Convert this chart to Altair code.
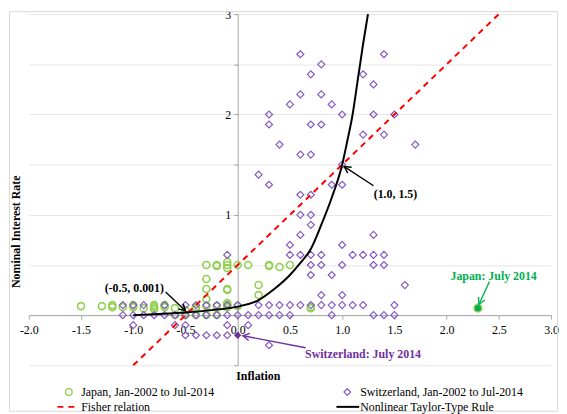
import math
import altair as alt
import pandas as pd

# ---------------- data ----------------
# Japan, Jan-2002 to Jul-2014 (inflation, nominal rate)
japan_inflation = [
    -1.5, -1.3, -1.2, -1.2, -1.1, -1.0, -1.0, -0.9, -0.8, -0.8, -0.8, -0.7,
    -0.7, -0.6, -0.5, -0.4, -0.4, -0.3, -0.2, -0.1, -0.1, 0.0, 0.7, 0.7,
    -0.6, -0.5, -0.4, -0.3, -0.2,
    -0.3, -0.3, -0.3, -0.1, -0.1, -0.1, 0.2, 0.2,
    -0.3, -0.2, -0.2, -0.1, -0.1, -0.1, 0.0, 0.1, 0.3, 0.3, 0.4, 0.5,
]
japan_rate = [
    0.09, 0.09, 0.10, 0.08, 0.08, 0.10, 0.08, 0.07, 0.10, 0.08, 0.06, 0.10,
    0.08, 0.07, 0.05, 0.08, 0.06, 0.09, 0.09, 0.10, 0.08, 0.09, 0.08, 0.07,
    0.002, 0.002, 0.002, 0.003, 0.002,
    0.36, 0.26, 0.16, 0.26, 0.25, 0.12, 0.30, 0.20,
    0.50, 0.50, 0.49, 0.53, 0.50, 0.47, 0.50, 0.50, 0.50, 0.49, 0.48, 0.50,
]

# Switzerland, Jan-2002 to Jul-2014: rate level -> inflation values
swiss_rows = [
    (2.6, [0.6, 1.4]),
    (2.5, [0.8]),
    (2.4, [0.7, 1.2]),
    (2.3, [1.3]),
    (2.2, [0.6, 0.8]),
    (2.1, [0.5, 0.9]),
    (2.0, [0.3, 1.0, 1.3, 1.5]),
    (1.9, [0.3, 0.7, 0.8]),
    (1.8, [1.2, 1.4]),
    (1.7, [0.4, 1.7]),
    (1.6, [0.6, 0.7]),
    (1.5, [1.0]),
    (1.4, [0.2]),
    (1.3, [0.3, 0.9, 1.0]),
    (1.2, [0.6, 0.7]),
    (1.0, [0.6, 0.7]),
    (0.9, [0.7]),
    (0.8, [0.6, 1.3]),
    (0.7, [0.5, 1.0]),
    (0.6, [-0.1, 0.5, 0.6, 0.7, 0.8, 1.1, 1.2, 1.3, 1.4]),
    (0.5, [0.7, 0.8, 1.0, 1.3, 1.4]),
    (0.4, [0.7, 0.9]),
    (0.3, [1.6]),
    (0.2, [0.8, 1.0]),
    (0.1, [-1.1, -1.0, -0.9, -0.7, -0.5, -0.4, -0.3, -0.2, -0.1, 0.0, 0.2,
           0.3, 0.4, 0.5, 0.6, 0.7, 0.8, 0.9, 1.0, 1.1, 1.2, 1.5]),
    (0.0, [-1.1, -1.0, -0.9, -0.8, -0.7, -0.6, -0.5, -0.4, -0.3, -0.2, -0.1,
           0.0, 0.1, 0.2, 0.3, 0.4, 0.5, 0.9, 1.3, 1.4, 1.5]),
    (-0.1, [-1.0, -0.6, -0.5, -0.1, 0.1]),
    (-0.2, [-0.5, -0.4, -0.3, -0.2, -0.1]),
    (-0.3, [0.3]),
]
swiss_inflation = [x for r, xs in swiss_rows for x in xs]
swiss_rate = [r for r, xs in swiss_rows for x in xs]

# July 2014 observations
japan_july_inflation, japan_july_rate = [2.3], [0.07]
swiss_july_inflation, swiss_july_rate = [0.0], [-0.2]

# Fisher relation
fisher_inflation = [-1.0, 2.5]
fisher_rate = [-0.5, 3.0]

# Nonlinear Taylor-type rule
taylor_inflation = [-1.0, -0.75, -0.5, -0.25, 0.0, 0.2, 0.35, 0.5, 0.6, 0.7,
                    0.8, 0.9, 1.0, 1.05, 1.1, 1.15, 1.2, 1.247]
taylor_rate = [0.0, 0.012, 0.027, 0.05, 0.085, 0.15, 0.26, 0.40, 0.52, 0.66,
               0.90, 1.17, 1.5, 1.74, 2.0, 2.35, 2.70, 3.0]

x_ticks = [-2.0, -1.5, -1.0, -0.5, 0.0, 0.5, 1.0, 1.5, 2.0, 2.5, 3.0]
y_ticks = [-0.5, 0.0, 0.5, 1.0, 1.5, 2.0, 2.5, 3.0]

# annotations
ann_labels = ["(-0.5, 0.001)", "(1.0, 1.5)", "Japan: July 2014", "Switzerland: July 2014"]
ann_x = [-0.99, 1.51, 2.45, 1.20]
ann_y = [0.27, 1.21, 0.39, -0.385]
arrow_x0 = [-0.69, 1.30, 2.41, 0.65]
arrow_y0 = [0.23, 1.29, 0.335, -0.325]
arrow_x1 = [-0.50, 1.02, 2.31, 0.05]
arrow_y1 = [0.044, 1.48, 0.108, -0.205]

# ---------------- layout / style ----------------
W, H = 528, 355
X_DOMAIN, Y_DOMAIN = [-2.0, 3.0], [-0.5, 3.0]
PX_X = W / (X_DOMAIN[1] - X_DOMAIN[0])
PX_Y = H / (Y_DOMAIN[1] - Y_DOMAIN[0])
PAD_L, PAD_T = 21, 4
SERIF = "Liberation Serif, Times New Roman, serif"
JP_COL = "#92D050"
CH_COL = "#8459C4"
ANN_COLORS = ["#000000", "#000000", "#00B050", "#7030A0"]
AXIS_COL = "#A6A6A6"


def px(x):  # absolute page x -> view x
    return x - 8 - PAD_L


def py(y):  # absolute page y -> view y
    return y - 8 - PAD_T


x_axis = alt.Axis(values=x_ticks, title=None, grid=False,
                  offset=-(0 - Y_DOMAIN[0]) * PX_Y,
                  labelExpr="(datum.value < 0 ? '-' : '') + format(abs(datum.value), '.1f')",
                  domainColor=AXIS_COL, tickColor=AXIS_COL, tickSize=4,
                  labelFont=SERIF, labelFontSize=12, labelColor="#000000",
                  labelPadding=6, labelFlush=False, labelOverlap=False)
y_axis = alt.Axis(values=y_ticks, title=None, grid=True, gridColor="#E6E6E6",
                  offset=-(0 - X_DOMAIN[0]) * PX_X,
                  labelExpr="datum.value >= 1 && datum.value % 1 == 0 ? format(datum.value, 'd') : ''",
                  domainColor=AXIS_COL, tickColor=AXIS_COL, tickSize=4,
                  labelFont=SERIF, labelFontSize=12, labelColor="#000000",
                  labelPadding=3, labelFlush=False, labelOverlap=False)
xs = alt.Scale(domain=X_DOMAIN, nice=False, zero=False)
ys = alt.Scale(domain=Y_DOMAIN, nice=False, zero=False)


def X(f):
    return alt.X(f, type="quantitative", scale=xs, axis=x_axis)


def Y(f):
    return alt.Y(f, type="quantitative", scale=ys, axis=y_axis)


japan_df = pd.DataFrame({"x": japan_inflation, "y": japan_rate})
swiss_df = pd.DataFrame({"x": swiss_inflation, "y": swiss_rate})
fisher_df = pd.DataFrame({"x": fisher_inflation, "y": fisher_rate})
taylor_df = pd.DataFrame({"x": taylor_inflation, "y": taylor_rate})
jj_df = pd.DataFrame({"x": japan_july_inflation, "y": japan_july_rate})
sj_df = pd.DataFrame({"x": swiss_july_inflation, "y": swiss_july_rate})

angles = [
    math.degrees(math.atan2((x1 - x0) * PX_X, (y1 - y0) * PX_Y)) % 360
    for x0, y0, x1, y1 in zip(arrow_x0, arrow_y0, arrow_x1, arrow_y1)
]
ann_df = pd.DataFrame({
    "label": ann_labels, "x": ann_x, "y": ann_y, "color": ANN_COLORS,
    "x0": arrow_x0, "y0": arrow_y0, "x1": arrow_x1, "y1": arrow_y1,
    "angle": angles,
})

japan = alt.Chart(japan_df).mark_point(shape="circle", filled=False, size=50,
                                        strokeWidth=1.6, color=JP_COL, opacity=1).encode(x=X("x"), y=Y("y"))
swiss = alt.Chart(swiss_df).mark_point(shape="diamond", filled=False, size=50,
                                        strokeWidth=1.2, color=CH_COL, opacity=1).encode(x=X("x"), y=Y("y"))
fisher = alt.Chart(fisher_df).mark_line(color="#FF0000", strokeWidth=2,
                                         strokeDash=[6, 5]).encode(x=X("x"), y=Y("y"))
taylor = alt.Chart(taylor_df).mark_line(color="#000000", strokeWidth=2,
                                         interpolate="monotone").encode(x=X("x"), y=Y("y"))
jj = alt.Chart(jj_df).mark_point(shape="circle", filled=True, size=60, fill="#00B050",
                                 stroke=JP_COL, strokeWidth=1.5, opacity=1).encode(x=X("x"), y=Y("y"))
sj = alt.Chart(sj_df).mark_point(shape="diamond", filled=True, size=55,
                                 color="#7030A0", opacity=1).encode(x=X("x"), y=Y("y"))

arrows = alt.Chart(ann_df).mark_rule(strokeWidth=1.4).encode(
    x=X("x0"), y=Y("y0"), x2="x1", y2="y1",
    color=alt.Color("color:N", scale=None))
heads = alt.Chart(ann_df).mark_point(shape="M-0.55,1L0,0L0.55,1", filled=False,
                                     size=170, strokeWidth=1.4, opacity=1).encode(
    x=X("x1"), y=Y("y1"), angle=alt.Angle("angle:Q", scale=None),
    stroke=alt.Color("color:N", scale=None))
ann_text = alt.Chart(ann_df).mark_text(font=SERIF, fontSize=12, fontWeight="bold").encode(
    x=X("x"), y=Y("y"), text="label:N", color=alt.Color("color:N", scale=None))

one = pd.DataFrame({"k": [0]})


def label(txt, x, y, **kw):
    base = dict(font=SERIF, fontSize=12, align="left", baseline="middle", color="#000000")
    base.update(kw)
    return alt.Chart(one).mark_text(**base).encode(
        x=alt.value(px(x)), y=alt.value(py(y)), text=alt.value(txt))


x_title = label("Inflation", 261, 378, fontWeight="bold", align="center")
y_title = label("Nominal Interest Rate", 16, 232, fontWeight="bold", align="center", angle=270)

ROW1, ROW2 = 394, 409
leg_jp_sym = alt.Chart(one).mark_point(shape="circle", filled=False, size=45, strokeWidth=1.3,
                                       color=JP_COL, opacity=1).encode(
    x=alt.value(px(69.5)), y=alt.value(py(ROW1)))
leg_ch_sym = alt.Chart(one).mark_point(shape="diamond", filled=False, size=45, strokeWidth=1.2,
                                       color=CH_COL, opacity=1).encode(
    x=alt.value(px(351)), y=alt.value(py(ROW1)))
leg_fisher = alt.Chart(one).mark_rule(color="#FF0000", strokeWidth=2, strokeDash=[6, 5]).encode(
    x=alt.value(px(58)), x2=alt.value(px(76)), y=alt.value(py(ROW2)))
leg_taylor = alt.Chart(one).mark_rule(color="#000000", strokeWidth=2).encode(
    x=alt.value(px(340)), x2=alt.value(px(363)), y=alt.value(py(ROW2)))
leg_t1 = label("Japan, Jan-2002 to Jul-2014", 82, ROW1)
leg_t2 = label("Switzerland, Jan-2002 to Jul-2014", 364, ROW1)
leg_t3 = label("Fisher relation", 82, ROW2)
leg_t4 = label("Nonlinear Taylor-Type Rule", 364, ROW2)

border = alt.Chart(one).mark_rect(fill=None, stroke="#D9D9D9", strokeWidth=1).encode(
    x=alt.value(px(9.5)), x2=alt.value(px(563.5)), y=alt.value(py(9.5)), y2=alt.value(py(413.5)))

chart = alt.layer(
    border, japan, swiss, fisher, taylor, jj, sj, arrows, heads, ann_text,
    x_title, y_title, leg_jp_sym, leg_ch_sym, leg_fisher, leg_taylor,
    leg_t1, leg_t2, leg_t3, leg_t4,
).properties(
    width=W, height=H,
    padding={"left": PAD_L, "top": PAD_T, "right": 8, "bottom": 47},
    autosize=alt.AutoSizeParams(type="none"),
).configure_view(stroke=None)

chart.save("out.html", embed_options={"renderer": "svg", "actions": False})
